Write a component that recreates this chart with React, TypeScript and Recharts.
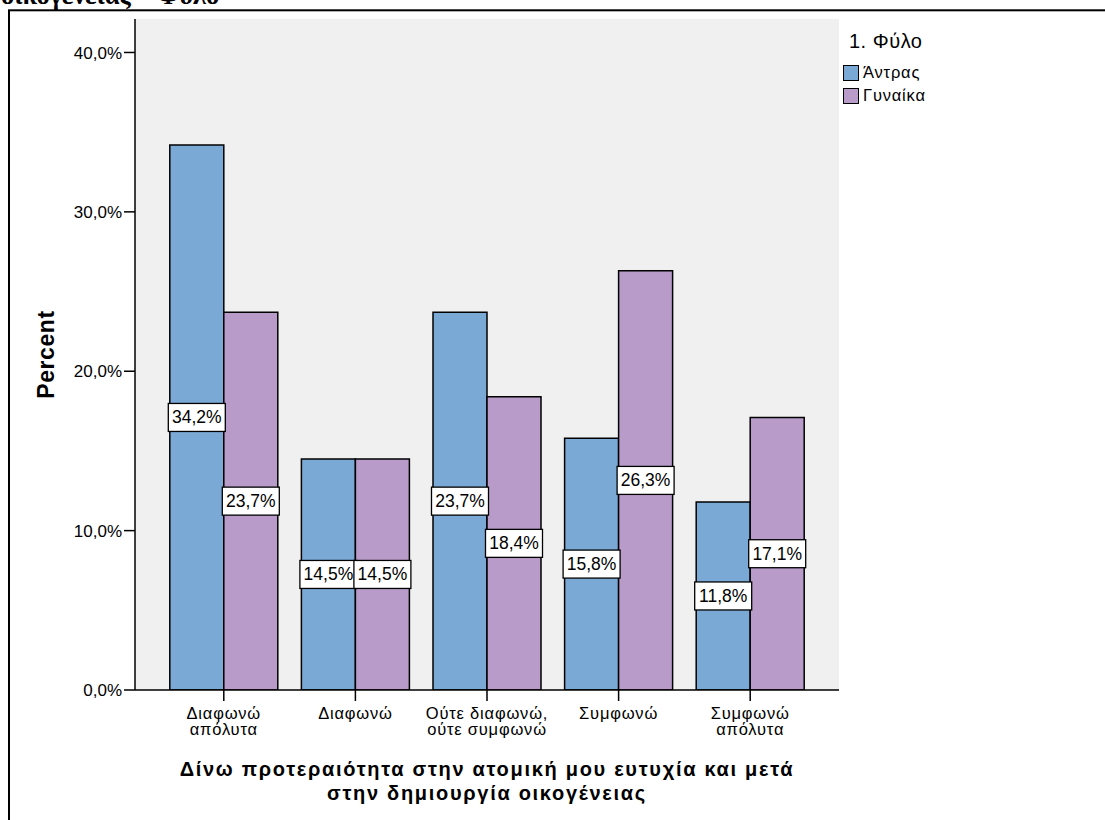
import React from "react";
import { BarChart, Bar, XAxis, YAxis, CartesianGrid, LabelList, Legend, Label } from "recharts";

const categories = [
  ["Διαφωνώ", "απόλυτα"],
  ["Διαφωνώ"],
  ["Ούτε διαφωνώ,", "ούτε συμφωνώ"],
  ["Συμφωνώ"],
  ["Συμφωνώ", "απόλυτα"],
];
const menValues = [34.2, 14.5, 23.7, 15.8, 11.8];
const womenValues = [23.7, 14.5, 18.4, 26.3, 17.1];
const yTicks = [0, 10, 20, 30, 40];
const seriesNames = ["Άντρας", "Γυναίκα"];
const legendTitle = "1. Φύλο";
const xTitle = ["Δίνω προτεραιότητα στην ατομική μου ευτυχία και μετά", "στην δημιουργία οικογένειας"];
const yTitle = "Percent";
const topTitle = "οικογένειας * Φύλο";

const BLUE = "#7BA9D6";
const PURPLE = "#B99BCA";
const FONT = "'Liberation Sans', Arial, sans-serif";

const data = categories.map((c, i) => ({
  name: c.join(" "),
  men: menValues[i],
  women: womenValues[i],
}));

const fmt = (v: number) => v.toFixed(1).replace(".", ",") + "%";

const XTick = (props: any) => {
  const { x, y, payload } = props;
  const lines = categories[payload.index] || [String(payload.value)];
  return (
    <text x={x} y={y} textAnchor="middle" fontFamily={FONT} fontSize={16.5} letterSpacing={0.8} fill="#000">
      {lines.map((l: string, i: number) => (
        <tspan key={i} x={x} dy={i === 0 ? 17 : 16}>
          {l}
        </tspan>
      ))}
    </text>
  );
};

const ValueLabel = (props: any) => {
  const { x, y, width, height, value } = props;
  const cx = x + width / 2;
  const cy = y + height / 2;
  const txt = fmt(value);
  const w = 57;
  const h = 28;
  return (
    <g>
      <rect x={cx - w / 2} y={cy - h / 2} width={w} height={h} fill="#fff" stroke="#000" strokeWidth={1.3} />
      <text x={cx} y={cy + 6} textAnchor="middle" fontFamily={FONT} fontSize={17.5} fill="#000">
        {txt}
      </text>
    </g>
  );
};

const LegendContent = () => (
  <div style={{ fontFamily: FONT, color: "#000" }}>
    <div style={{ fontSize: 20, lineHeight: "22px", marginLeft: 6, marginBottom: 9, letterSpacing: 0.5 }}>{legendTitle}</div>
    {seriesNames.map((n, i) => (
      <div key={n} style={{ display: "flex", alignItems: "center", height: 23 }}>
        <div
          style={{
            width: 14,
            height: 14,
            background: i === 0 ? BLUE : PURPLE,
            border: "1.3px solid #000",
            marginRight: 4,
          }}
        />
        <span style={{ fontSize: 16.5, letterSpacing: 0.8 }}>{n}</span>
      </div>
    ))}
  </div>
);

const XTitle = (props: any) => {
  const { viewBox } = props;
  const cx = viewBox.x + viewBox.width / 2;
  return (
    <text textAnchor="middle" fontFamily={FONT} fontSize={20} fontWeight="bold" letterSpacing={1.7} fill="#000">
      <tspan x={cx} y={776}>{xTitle[0]}</tspan>
      <tspan x={cx} y={800}>{xTitle[1]}</tspan>
    </text>
  );
};

const YTitle = (props: any) => {
  const { viewBox } = props;
  const cy = viewBox.y + viewBox.height / 2;
  const x = 54;
  return (
    <text
      x={x}
      y={cy}
      textAnchor="middle"
      transform={`rotate(-90, ${x}, ${cy})`}
      fontFamily={FONT}
      fontSize={23}
      fontWeight="bold"
      letterSpacing={0.6}
      fill="#000"
    >
      {yTitle}
    </text>
  );
};

export default function App() {
  return (
    <div style={{ position: "absolute", left: 0, top: 0, width: 1105, height: 820, overflow: "hidden", background: "#fff" }}>
      <BarChart
        width={1105}
        height={820}
        data={data}
        margin={{ top: 19, right: 66, bottom: 80, left: 0 }}
        barCategoryGap={11.8}
        barGap={0}
      >
        <CartesianGrid horizontal={false} vertical={false} fill="#F0F0F0" />
        <XAxis
          dataKey="name"
          padding={{ left: 23, right: 23 }}
          height={50}
          tickSize={11}
          tickMargin={1}
          interval={0}
          tick={<XTick />}
          axisLine={{ stroke: "#000", strokeWidth: 1.5 }}
          tickLine={{ stroke: "#000", strokeWidth: 1.5 }}
        >
          <Label content={<XTitle />} />
        </XAxis>
        <XAxis xAxisId="top" orientation="top" dataKey="name" height={0} tick={false} tickLine={false} axisLine={{ stroke: "#000", strokeWidth: 1.5 }} />
        <YAxis
          width={135}
          domain={[0, 42.1]}
          ticks={yTicks}
          tickFormatter={fmt}
          tickSize={11}
          tickMargin={2}
          allowDataOverflow
          tick={{ fill: "#000", fontFamily: FONT, fontSize: 17 }}
          axisLine={{ stroke: "#000", strokeWidth: 1.5 }}
          tickLine={{ stroke: "#000", strokeWidth: 1.5 }}
        >
          <Label content={<YTitle />} />
        </YAxis>
        <YAxis yAxisId="right" orientation="right" width={0} tick={false} tickLine={false} domain={[0, 42.1]} axisLine={{ stroke: "#000", strokeWidth: 1.5 }} />
        <Legend
          layout="vertical"
          verticalAlign="top"
          align="right"
          content={<LegendContent />}
          wrapperStyle={{ position: "absolute", left: 843, top: 30, width: 200 }}
        />
        <Bar dataKey="men" name={seriesNames[0]} fill={BLUE} stroke="#000" strokeWidth={1.5} isAnimationActive={false}>
          <LabelList dataKey="men" content={<ValueLabel />} />
        </Bar>
        <Bar dataKey="women" name={seriesNames[1]} fill={PURPLE} stroke="#000" strokeWidth={1.5} isAnimationActive={false}>
          <LabelList dataKey="women" content={<ValueLabel />} />
        </Bar>
      </BarChart>
      <svg width={1105} height={820} style={{ position: "absolute", left: 0, top: 0, pointerEvents: "none" }}>
        <rect x={9} y={10.3} width={1200} height={900} fill="none" stroke="#000" strokeWidth={2} />
        <text x={1} y={4} fontFamily="'Liberation Serif', 'Times New Roman', serif" fontWeight="bold" fontSize={26.5} fill="#000">
          {topTitle}
        </text>
      </svg>
    </div>
  );
}
